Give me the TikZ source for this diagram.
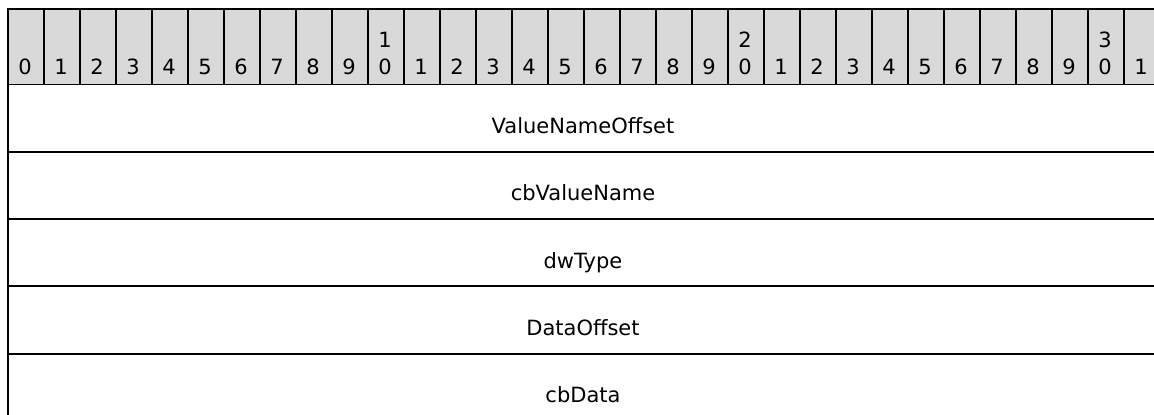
\documentclass[tikz,border=0pt]{standalone}
\usepackage{fontspec}
\setmainfont{DejaVu Sans}
\usetikzlibrary{positioning}
\definecolor{hdrgray}{HTML}{D9D9D9}

\begin{document}
\begin{tikzpicture}[x=1pt, y=-1pt,
    bitcell/.style={rectangle, draw=black, line width=1.8pt, fill=hdrgray, minimum width=36pt, minimum height=75.5pt, inner sep=0pt, anchor=north west},
    fieldrow/.style={rectangle, draw=black, line width=1.8pt, minimum width=1152pt, minimum height=67.3pt, inner sep=0pt, anchor=north west},
    digit/.style={font=\fontsize{21}{25}\selectfont, anchor=base, inner sep=0pt},
    fieldname/.style={font=\fontsize{21}{25}\selectfont, anchor=base, inner sep=0pt}
]
    % page frame (picture is cut at the right and bottom)
    \clip (0,0) rectangle (1154,415);

    % Bit ruler
    \foreach \i in {0,...,31} {
        \pgfmathtruncatemacro{\u}{mod(\i,10)}
        \node[bitcell] (c\i) at ({7+36*\i},8) {};
        \node[digit] (u\i) at ({25+36*\i},74) {\u};
    }
    \foreach \i/\t in {10/1, 20/2, 30/3}
        \node[digit] (t\i) at ({25+36*\i},47) {\t};

    % Fields
    \foreach \n/\lbl [count=\k from 0] in {vnoff/ValueNameOffset, cbvn/cbValueName, dwtype/dwType, doff/DataOffset, cbdata/cbData} {
        \node[fieldrow] (\n) at (7,{83.5+67.3*\k}) {};
        \node[fieldname] (\n-lbl) at ({583},{133.5+67.3*\k}) {\lbl};
    }

\end{tikzpicture}
\end{document}
